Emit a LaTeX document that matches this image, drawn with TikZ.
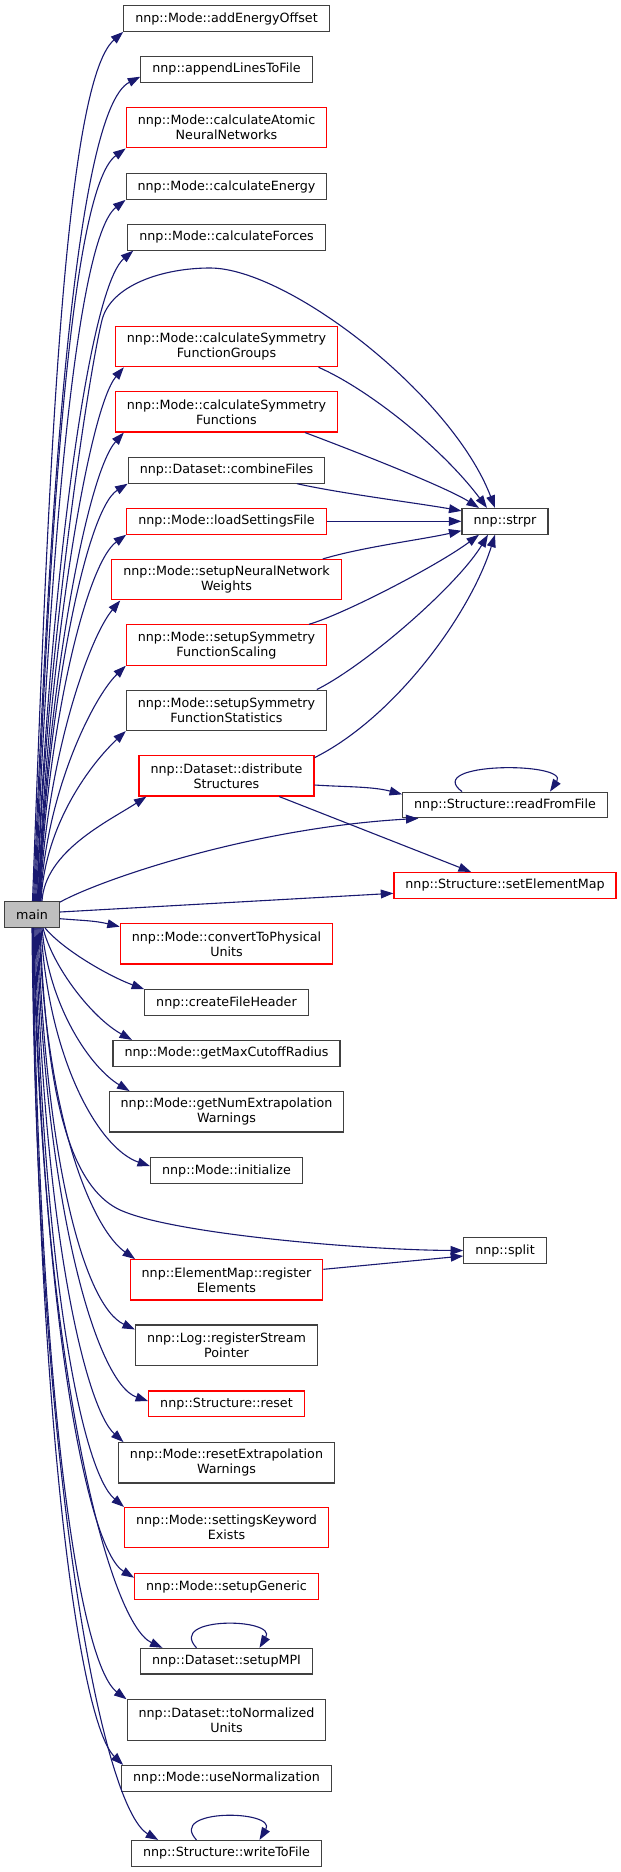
\documentclass[tikz,border=0pt]{standalone}
\usepackage{fontspec}
\setmainfont{DejaVu Sans}
\usetikzlibrary{arrows.meta,calc}
\definecolor{edgeblue}{HTML}{191970}
\definecolor{mainfill}{HTML}{BFBFBF}
\definecolor{nodeline}{HTML}{404040}
\definecolor{redline}{HTML}{FF0000}
\begin{document}
\begin{tikzpicture}[x=1bp,y=-1bp,
  nbox/.style={draw=nodeline, line width=1.2bp, fill=white, inner xsep=11.5bp, inner ysep=0pt,
    minimum height=25.6bp, align=center, font=\fontsize{12.7bp}{15bp}\selectfont},
  nbox2/.style={nbox, minimum height=40.3bp},
  rbox/.style={draw=redline},
  cedge/.style={draw=edgeblue, line width=1.1bp, -{Triangle[length=12.5bp,width=8.8bp]}},
  ]
\path[use as bounding box, fill=white] (0,0) rectangle (621,1872);

% column 1
\node[nbox, fill=mainfill] (main) at (32,914.5) {main};

% column 2
\node[nbox] (aeo) at (226.5,18.5) {nnp::Mode::addEnergyOffset};
\node[nbox] (altf) at (226.5,69.3) {nnp::appendLinesToFile};
\node[nbox2, rbox] (can) at (226.5,127.7) {nnp::Mode::calculateAtomic\\NeuralNetworks};
\node[nbox] (ce) at (226.5,186.5) {nnp::Mode::calculateEnergy};
\node[nbox] (cfo) at (226.5,237.3) {nnp::Mode::calculateForces};
\node[nbox2, rbox] (csfg) at (226.5,346.5) {nnp::Mode::calculateSymmetry\\FunctionGroups};
\node[nbox2, rbox] (csf) at (226.5,411.8) {nnp::Mode::calculateSymmetry\\Functions};
\node[nbox] (cf) at (226.5,470.3) {nnp::Dataset::combineFiles};
\node[nbox, rbox] (lsf) at (226.5,521.3) {nnp::Mode::loadSettingsFile};
\node[nbox2, rbox] (snnw) at (226.5,579.7) {nnp::Mode::setupNeuralNetwork\\Weights};
\node[nbox2, rbox] (ssfsc) at (226.5,645) {nnp::Mode::setupSymmetry\\FunctionScaling};
\node[nbox2] (ssfst) at (226.5,710.3) {nnp::Mode::setupSymmetry\\FunctionStatistics};
\node[nbox2, rbox] (ds) at (226.5,775.8) {nnp::Dataset::distribute\\Structures};
\node[nbox2, rbox] (cpu) at (226.5,943.8) {nnp::Mode::convertToPhysical\\Units};
\node[nbox] (cfh) at (226.5,1002.5) {nnp::createFileHeader};
\node[nbox] (gmcr) at (226.5,1053.3) {nnp::Mode::getMaxCutoffRadius};
\node[nbox2] (gnew) at (226.5,1111.8) {nnp::Mode::getNumExtrapolation\\Warnings};
\node[nbox] (init) at (226.5,1170.5) {nnp::Mode::initialize};
\node[nbox2, rbox] (re) at (226.5,1279.8) {nnp::ElementMap::register\\Elements};
\node[nbox2] (rsp) at (226.5,1345.2) {nnp::Log::registerStream\\Pointer};
\node[nbox, rbox] (reset) at (226.5,1403.8) {nnp::Structure::reset};
\node[nbox2] (rew) at (226.5,1462.8) {nnp::Mode::resetExtrapolation\\Warnings};
\node[nbox2, rbox] (skw) at (226.5,1527.7) {nnp::Mode::settingsKeyword\\Exists};
\node[nbox, rbox] (sg) at (226.5,1586.5) {nnp::Mode::setupGeneric};
\node[nbox] (mpi) at (226.5,1661.2) {nnp::Dataset::setupMPI};
\node[nbox2] (tnu) at (226.5,1720) {nnp::Dataset::toNormalized\\Units};
\node[nbox] (un) at (226.5,1778.3) {nnp::Mode::useNormalization};
\node[nbox] (wtf) at (226.5,1853.3) {nnp::Structure::writeToFile};

% column 3
\node[nbox] (strpr) at (505,521.3) {nnp::strpr};
\node[nbox] (rf) at (505,805) {nnp::Structure::readFromFile};
\node[nbox, rbox] (sem) at (505,885.3) {nnp::Structure::setElementMap};
\node[nbox] (split) at (505,1250.5) {nnp::split};

% main -> upper column-2 nodes
\draw[cedge] ($(main.north)+(0.5,0)$) .. controls ($(main.north)+(15.5,-400)$) and ($(aeo.south west)+(-60.4,52.5)$) .. (aeo.south west);
\draw[cedge] ($(main.north)+(1.5,0)$) .. controls ($(main.north)+(16.5,-380)$) and ($(altf.south west)+(-66.8,28)$) .. ($(altf.south west)+(0,-6)$);
\draw[cedge] ($(main.north)+(2.5,0)$) .. controls ($(main.north)+(16.5,-347)$) and ($(can.south west)+(-56.6,41.1)$) .. (can.south west);
\draw[cedge] ($(main.north)+(3.5,0)$) .. controls ($(main.north)+(16.5,-323)$) and ($(ce.south west)+(-51.2,40)$) .. (ce.south west);
\draw[cedge] ($(main.north)+(4.5,0)$) .. controls ($(main.north)+(16.5,-300)$) and ($(cfo.south west)+(-40,38.6)$) .. ($(cfo.south west)+(6,0)$);
\draw[cedge] ($(main.north)+(6,0)$) .. controls ($(main.north)+(16,-246)$) and ($(csfg.south west)+(-26.4,42.1)$) .. ($(csfg.south west)+(9,0)$);
\draw[cedge] ($(main.north)+(6.5,0)$) .. controls ($(main.north)+(15.5,-216)$) and ($(csf.south west)+(-27.8,40.9)$) .. ($(csf.south west)+(9,0)$);
\draw[cedge] ($(main.north)+(7,0)$) .. controls ($(main.north)+(15,-193)$) and ($(cf.south west)+(-42.4,26.5)$) .. (cf.south west);
\draw[cedge] ($(main.north)+(7.5,0)$) .. controls ($(main.north)+(14.5,-170)$) and ($(lsf.south west)+(-40.5,29.4)$) .. (lsf.south west);
\draw[cedge] ($(main.north)+(8,0)$) .. controls ($(main.north)+(14,-139)$) and ($(snnw.south west)+(-23.1,38.3)$) .. ($(snnw.south west)+(9,0)$);
\draw[cedge] ($(main.north)+(8.5,0)$) .. controls ($(main.north)+(13.5,-109)$) and ($(ssfsc.south west)+(-32.4,31.3)$) .. (ssfsc.south west);
\draw[cedge] ($(main.north)+(9,0)$) .. controls ($(main.north)+(13,-79)$) and ($(ssfst.south west)+(-32.9,30.7)$) .. (ssfst.south west);
\draw[cedge] ($(main.north)+(10,0)$) .. controls ($(main.north)+(13,-50)$) and ($(ds.south west)+(-29.7,24.5)$) .. ($(ds.south west)+(8,0)$);

% main -> strpr (big arc)
\draw[cedge] ($(main.north)+(5.5,0)$) .. controls (42,700) and (85,390) .. (102,320)
  .. controls (111,285) and (163,268) .. (210,268)
  .. controls (288,268) and (452,395) .. ($(strpr.north)+(-10,0)$);

% main -> column-3 nodes
\draw[cedge] ($(main.north east)+(0,1)$) .. controls (100,880) and (250,828) .. ($(rf.south west)+(16.4,0)$);
\draw[cedge] ($(main.east)+(0,-2.5)$) -- ($(sem.west)+(0,8)$);

% main -> lower column-2 nodes
\draw[cedge] ($(main.east)+(0,4.2)$) .. controls ($(main.east)+(25,6.2)$) and ($(cpu.north west)+(-25,-2.4)$) .. ($(cpu.north west)+(0,3.6)$);
\draw[cedge] ($(main.south)+(13,0)$) .. controls ($(main.south)+(31,22)$) and ($(cfh.north west)+(-34.8,-12.7)$) .. (cfh.north west);
\draw[cedge] ($(main.south)+(11,0)$) .. controls ($(main.south)+(21,40)$) and ($(gmcr.north west)+(-19.8,-21.8)$) .. ($(gmcr.north west)+(19.6,0)$);
\draw[cedge] ($(main.south)+(10,0)$) .. controls ($(main.south)+(17,80)$) and ($(gnew.north west)+(-17.6,-23.2)$) .. ($(gnew.north west)+(21,0)$);
\draw[cedge] ($(main.south)+(9,0)$) .. controls ($(main.south)+(16,130)$) and ($(init.north west)+(-52,-8.9)$) .. ($(init.north west)+(0,9)$);
\draw[cedge] ($(main.south)+(8,0)$) .. controls (46,1080) and (65,1190) .. (125,1212)
  .. controls (180,1234) and (360,1250) .. (split.west);
\draw[cedge] ($(main.south)+(7,0)$) .. controls ($(main.south)+(15,199)$) and ($(re.north west)+(-35.5,-28.7)$) .. ($(re.north west)+(5.5,0)$);
\draw[cedge] ($(main.south)+(6,0)$) .. controls ($(main.south)+(14,239)$) and ($(rsp.north west)+(-49.8,-18.2)$) .. ($(rsp.north west)+(0,5)$);
\draw[cedge] ($(main.south)+(5,0)$) .. controls ($(main.south)+(13,278)$) and ($(reset.north west)+(-52,-7.2)$) .. ($(reset.north west)+(0,10.7)$);
\draw[cedge] ($(main.south)+(4,0)$) .. controls ($(main.south)+(12,309)$) and ($(rew.north west)+(-31.6,-33.5)$) .. ($(rew.north west)+(5.6,0)$);
\draw[cedge] ($(main.south)+(3,0)$) .. controls ($(main.south)+(11,348)$) and ($(skw.north west)+(-42.1,-35.4)$) .. (skw.north west);
\draw[cedge] ($(main.south)+(2,0)$) .. controls ($(main.south)+(10,388)$) and ($(sg.north west)+(-47.1,-23.7)$) .. ($(sg.north west)+(0,4.6)$);
\draw[cedge] ($(main.south)+(1.5,0)$) .. controls ($(main.south)+(8.5,433)$) and ($(mpi.north west)+(-31.8,-25.4)$) .. ($(mpi.north west)+(22.6,0)$);
\draw[cedge] ($(main.south)+(1,0)$) .. controls ($(main.south)+(7,464)$) and ($(tnu.north west)+(-47.9,-36.1)$) .. (tnu.north west);
\draw[cedge] ($(main.south)+(0.5,0)$) .. controls ($(main.south)+(6,503)$) and ($(un.north west)+(-41.2,-41.7)$) .. ($(un.north west)+(2,0)$);
\draw[cedge] (main.south) .. controls ($(main.south)+(5,548)$) and ($(wtf.north west)+(-29,-32.5)$) .. ($(wtf.north west)+(27.3,0)$);

% column 2 -> strpr
\draw[cedge] ($(csfg.south)+(92,0)$) .. controls ($(csfg.south)+(142,22)$) and ($(strpr.north)+(-63,-60)$) .. ($(strpr.north)+(-18,0)$);
\draw[cedge] ($(csf.south)+(78.5,0)$) .. controls ($(csf.south)+(118.5,15)$) and ($(strpr.north)+(-61,-22)$) .. ($(strpr.north)+(-26,0)$);
\draw[cedge] ($(cf.south)+(70.5,0)$) .. controls ($(cf.south)+(115.5,10)$) and ($(strpr.north west)+(-45,-5)$) .. ($(strpr.north west)+(0,3)$);
\draw[cedge] (lsf.east) -- (strpr.west);
\draw[cedge] ($(snnw.north)+(96.3,0)$) .. controls ($(snnw.north)+(136.3,-12)$) and ($(strpr.south west)+(-40,5)$) .. ($(strpr.south west)+(0,-4)$);
\draw[cedge] ($(ssfsc.north)+(82.5,0)$) .. controls ($(ssfsc.north)+(117.5,-10)$) and ($(strpr.south)+(-66,30)$) .. ($(strpr.south)+(-26,0)$);
\draw[cedge] ($(ssfst.north)+(90.3,0)$) .. controls ($(ssfst.north)+(140.3,-25)$) and ($(strpr.south)+(-47,50)$) .. ($(strpr.south)+(-17,0)$);
\draw[cedge] ($(ds.north east)+(0,2.6)$) .. controls ($(ds.north east)+(80,-37.4)$) and ($(strpr.south)+(-35,80)$) .. ($(strpr.south)+(-10,0)$);

% distributeStructures -> readFromFile / setElementMap
\draw[cedge] ($(ds.east)+(0,9.2)$) .. controls ($(ds.east)+(30,11.2)$) and ($(rf.north west)+(-30,-5.3)$) .. ($(rf.north west)+(0,2.7)$);
\draw[cedge] ($(ds.south)+(52.7,0)$) -- ($(sem.north)+(-34,0)$);

% registerElements -> split
\draw[cedge] ($(re.east)+(0,-10.5)$) -- ($(split.west)+(0,5.5)$);

% self loops
\draw[cedge] ($(rf.north)+(-43,0)$) .. controls ($(rf.north)+(-83,-30)$) and ($(rf.north)+(65,-30)$) .. ($(rf.north)+(45,0)$);
\draw[cedge] ($(mpi.north)+(-30,0)$) .. controls ($(mpi.north)+(-60,-32)$) and ($(mpi.north)+(51,-30)$) .. ($(mpi.north)+(33,0)$);
\draw[cedge] ($(wtf.north)+(-30,0)$) .. controls ($(wtf.north)+(-60,-32)$) and ($(wtf.north)+(51,-30)$) .. ($(wtf.north)+(33,0)$);
\end{tikzpicture}
\end{document}
